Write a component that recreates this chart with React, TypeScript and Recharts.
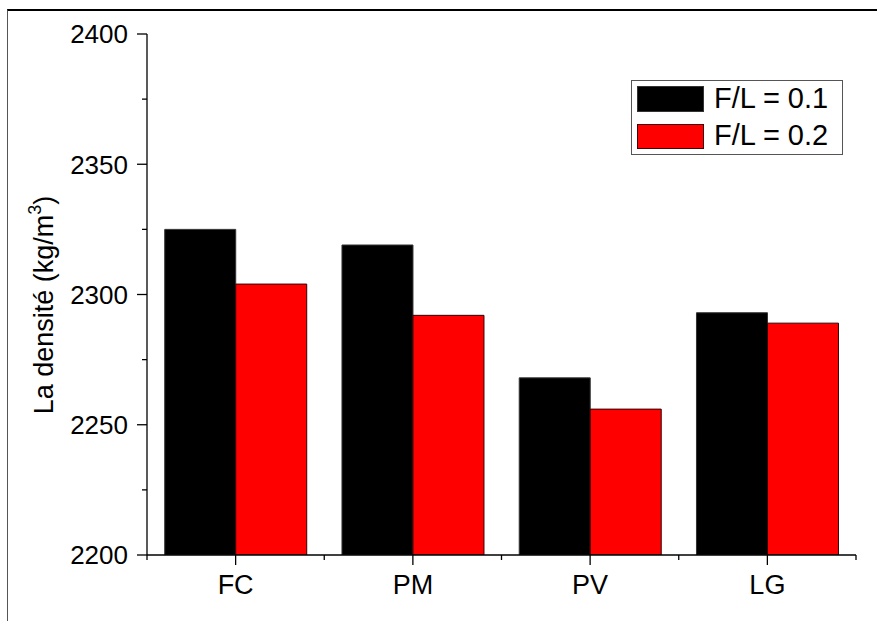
import { BarChart, Bar, XAxis, YAxis } from "recharts";

const categories = ["FC", "PM", "PV", "LG"];
const densityFL01 = [2325, 2319, 2268, 2293];
const densityFL02 = [2304, 2292, 2256, 2289];
const seriesNames = ["F/L = 0.1", "F/L = 0.2"];
const yTicks = [2200, 2225, 2250, 2275, 2300, 2325, 2350, 2375, 2400];
const yMajor = [2200, 2250, 2300, 2350, 2400];

const data = categories.map((name, i) => ({
  name,
  fl01: densityFL01[i],
  fl02: densityFL02[i],
}));

const FONT = "'Liberation Sans', Arial, Helvetica, sans-serif";
const PLOT_LEFT = 147;
const PLOT_RIGHT = 856;
const band = (PLOT_RIGHT - PLOT_LEFT) / categories.length;

function YTick({ x, y, payload }: any) {
  const major = yMajor.includes(payload.value);
  return (
    <g>
      <line x1={x - (major ? 10 : 5)} x2={x} y1={y} y2={y} stroke="#000" strokeWidth={1.3} />
      {major && (
        <text x={x - 19} y={y} dy="0.36em" textAnchor="end" fontSize={26} fontFamily={FONT} fill="#000">
          {payload.value}
        </text>
      )}
    </g>
  );
}

function XTick({ x, y, payload, index }: any) {
  const last = index === categories.length - 1;
  return (
    <g stroke="#000" strokeWidth={1.3}>
      <line x1={x} x2={x} y1={y} y2={y + 10} />
      <line x1={x - band / 2} x2={x - band / 2} y1={y} y2={y + 5} />
      {last && <line x1={x + band / 2} x2={x + band / 2} y1={y} y2={y + 5} />}
      <text x={x} y={y + 39} textAnchor="middle" fontSize={27} fontFamily={FONT} fill="#000" stroke="none">
        {payload.value}
      </text>
    </g>
  );
}

function LegendBox() {
  const text = { position: "absolute" as const, left: 82, fontSize: 29, lineHeight: "29px", fontFamily: FONT, color: "#000", whiteSpace: "nowrap" as const };
  return (
    <div style={{ position: "absolute", left: 631, top: 80, width: 212, height: 75, boxSizing: "border-box", border: "1px solid #555", background: "#fff" }}>
      <div style={{ position: "absolute", left: 5, top: 5, width: 67, height: 26, boxSizing: "border-box", background: "#000", border: "1px solid #333" }} />
      <div style={{ ...text, top: 3 }}>{seriesNames[0]}</div>
      <div style={{ position: "absolute", left: 5, top: 43, width: 67, height: 25, boxSizing: "border-box", background: "#ff0000", border: "1px solid #400" }} />
      <div style={{ ...text, top: 40 }}>{seriesNames[1]}</div>
    </div>
  );
}

export default function App() {
  return (
    <div style={{ position: "absolute", left: 0, top: 0, width: 877, height: 621, background: "#fff" }}>
      <div
        style={{
          position: "absolute",
          left: 7,
          top: 9,
          width: 870,
          height: 612,
          borderTop: "2px solid #000",
          borderLeft: "1px solid #555",
        }}
      />
      <div style={{ position: "absolute", left: 0, top: 0 }}>
        <BarChart
          width={877}
          height={621}
          data={data}
          margin={{ top: 34, right: 877 - PLOT_RIGHT, bottom: 26, left: PLOT_LEFT - 80 }}
          barCategoryGap="10%"
          barGap={0}
        >
          <XAxis
            dataKey="name"
            height={40}
            tickSize={0}
            tickMargin={0}
            tickLine={false}
            axisLine={{ stroke: "#000", strokeWidth: 1.3 }}
            tick={<XTick />}
            interval={0}
          />
          <YAxis
            width={80}
            domain={[2200, 2400]}
            allowDataOverflow
            ticks={yTicks}
            interval={0}
            tickSize={0}
            tickMargin={0}
            tickLine={false}
            axisLine={{ stroke: "#000", strokeWidth: 1.3 }}
            tick={<YTick />}
            label={{
              content: () => (
                <text transform="translate(53,305) rotate(-90)" textAnchor="middle" fontSize={27} fontFamily={FONT} fill="#000">
                  La densité (kg/m
                  <tspan dy={-12} fontSize={18}>3</tspan>
                  <tspan dy={12}>)</tspan>
                </text>
              ),
            }}
          />
          <Bar dataKey="fl01" name={seriesNames[0]} fill="#000" stroke="#333" strokeWidth={1} isAnimationActive={false} />
          <Bar dataKey="fl02" name={seriesNames[1]} fill="#ff0000" stroke="#300" strokeWidth={1} isAnimationActive={false} />
        </BarChart>
      </div>
      <LegendBox />
    </div>
  );
}
